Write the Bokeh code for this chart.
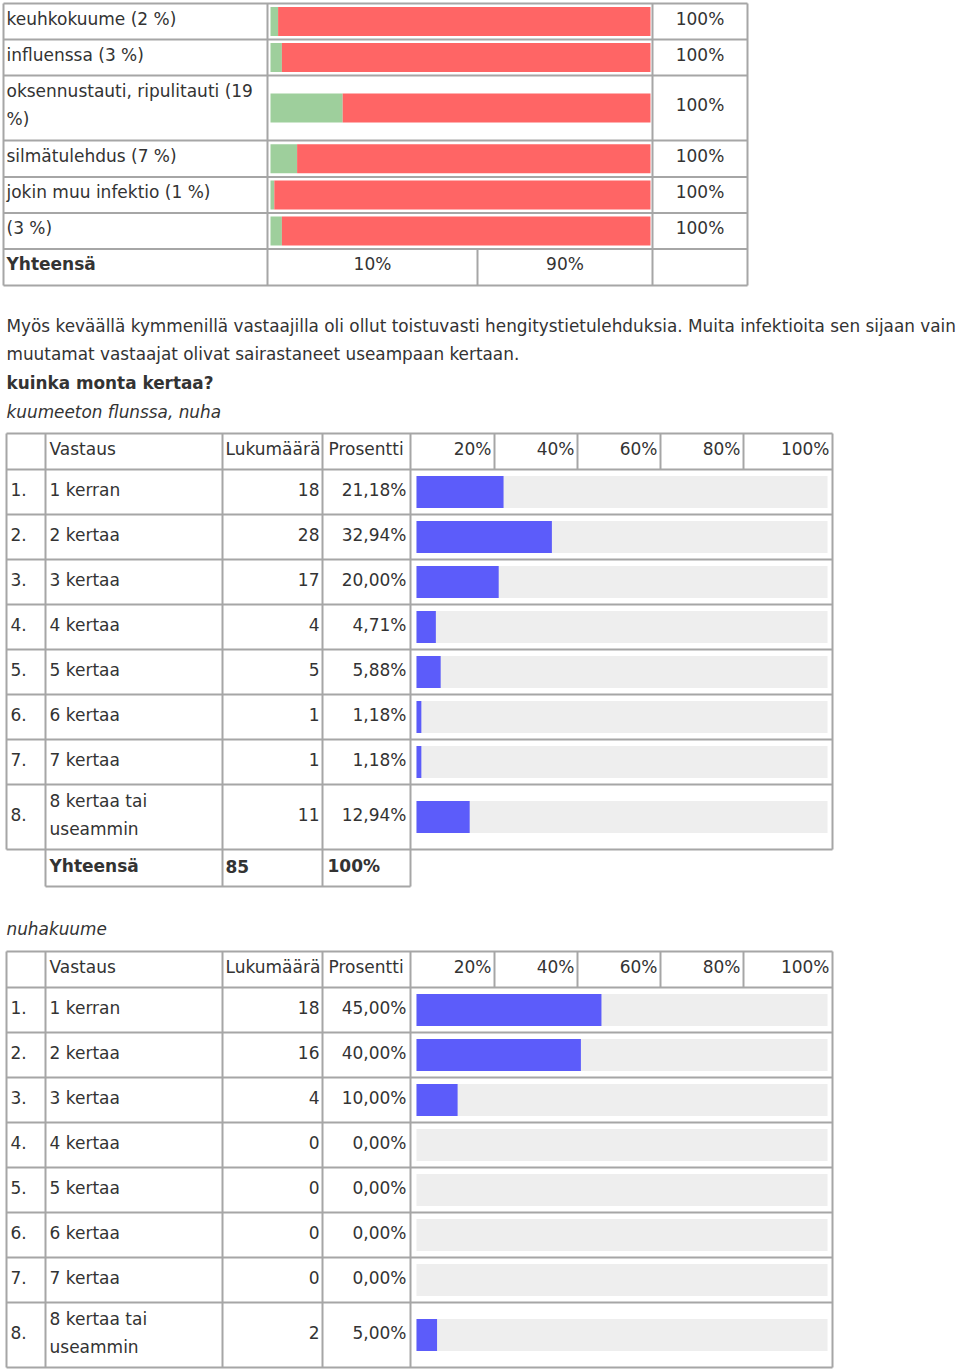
from bokeh.plotting import figure
from bokeh.models import Range1d, ColumnDataSource
from bokeh.core.properties import value
from bokeh.embed import file_html
from bokeh.resources import INLINE

# ---------------- data ----------------
t1_labels = ["keuhkokuume (2 %)", "influenssa (3 %)", "oksennustauti, ripulitauti (19\n%)",
             "silmätulehdus (7 %)", "jokin muu infektio (1 %)", "(3 %)"]
t1_green = [2, 3, 19, 7, 1, 3]
t1_totals = ["100%", "100%", "100%", "100%", "100%", "100%"]
t1_sum_label = "Yhteensä"
t1_sum_values = ["10%", "90%"]

para_lines = ["Myös keväällä kymmenillä vastaajilla oli ollut toistuvasti hengitystietulehduksia. Muita infektioita sen sijaan vain",
              "muutamat vastaajat olivat sairastaneet useampaan kertaan."]
question = "kuinka monta kertaa?"
title2 = "kuumeeton flunssa, nuha"
title3 = "nuhakuume"

header = ["Vastaus", "Lukumäärä", "Prosentti"]
scale_ticks = ["20%", "40%", "60%", "80%", "100%"]
numbers = ["1.", "2.", "3.", "4.", "5.", "6.", "7.", "8."]
answers = ["1 kerran", "2 kertaa", "3 kertaa", "4 kertaa", "5 kertaa", "6 kertaa", "7 kertaa",
           "8 kertaa tai\nuseammin"]
counts2 = [18, 28, 17, 4, 5, 1, 1, 11]
pct2 = [21.18, 32.94, 20.00, 4.71, 5.88, 1.18, 1.18, 12.94]
total2 = ["85", "100%"]
counts3 = [18, 16, 4, 0, 0, 0, 0, 2]
pct3 = [45.00, 40.00, 10.00, 0.00, 0.00, 0.00, 0.00, 5.00]

# ---------------- style ----------------
FONT = "DejaVu Sans"
FS = "17px"
PFS = "16.88px"
TXT = "#333333"
BORDER = "#a6a6a6"
GREEN = "#9ecf9c"
RED = "#ff6565"
BLUE = "#5c5cfa"
BG = "#eeeeee"

W, H = 960, 1371
p = figure(width=W, height=H, x_range=Range1d(0, W), y_range=Range1d(H, 0),
           output_backend="svg", toolbar_location=None, min_border=0)
p.axis.visible = False
p.grid.visible = False
p.outline_line_color = None
p.background_fill_color = "white"
p.border_fill_color = "white"

texts = dict(x=[], y=[], t=[], align=[], style=[], size=[])


def add_text(x, y, t, align="left", style="normal", size=FS):
    texts["x"].append(x); texts["y"].append(y); texts["t"].append(t)
    texts["align"].append(align); texts["style"].append(style)
    texts["size"].append(size)


hl = dict(x0=[], x1=[], y0=[], y1=[])


def hline(x0, x1, y):
    hl["x0"].append(x0); hl["x1"].append(x1); hl["y0"].append(y); hl["y1"].append(y)


def vline(x, y0, y1):
    hl["x0"].append(x); hl["x1"].append(x); hl["y0"].append(y0); hl["y1"].append(y1)


quads = dict(l=[], r=[], t=[], b=[], c=[])


def add_quad(l, r, t, b, c):
    quads["l"].append(l); quads["r"].append(r); quads["t"].append(t)
    quads["b"].append(b); quads["c"].append(c)


def multiline(x, yc, s, gap=28, **kw):
    parts = s.split("\n")
    n = len(parts)
    for i, part in enumerate(parts):
        add_text(x, yc + (i - (n - 1) / 2) * gap, part, **kw)


# ---------------- table 1 ----------------
t1_rows = [3, 39, 75, 140, 176.5, 212.5, 248.5, 285]
t1_cols = [3, 267, 652, 747]
bar_l, bar_r = 270, 650
for i, lab in enumerate(t1_labels):
    top, bot = t1_rows[i], t1_rows[i + 1]
    yc = (top + bot) / 2
    multiline(6, yc - 3, lab)
    bh = 29
    g = bar_l + (bar_r - bar_l) * t1_green[i] / 100
    add_quad(bar_l, g, yc - bh / 2, yc + bh / 2, GREEN)
    add_quad(g, bar_r, yc - bh / 2, yc + bh / 2, RED)
    add_text((t1_cols[2] + t1_cols[3]) / 2, yc - 3, t1_totals[i], align="center")
ytot = (t1_rows[-2] + t1_rows[-1]) / 2
add_text(6, ytot - 3, t1_sum_label, style="bold")
mid1 = 477
add_text((t1_cols[1] + mid1) / 2, ytot - 3, t1_sum_values[0], align="center")
add_text((mid1 + t1_cols[2]) / 2, ytot - 3, t1_sum_values[1], align="center")
for y in t1_rows:
    hline(t1_cols[0], t1_cols[-1], y)
for x in t1_cols:
    vline(x, t1_rows[0], t1_rows[-1])
vline(mid1, t1_rows[-2], t1_rows[-1])

# ---------------- paragraph ----------------
add_text(6, 325, para_lines[0], size=PFS)
add_text(6, 353, para_lines[1], size=PFS)
add_text(6, 382, question, style="bold", size=PFS)
add_text(6, 411, title2, style="italic", size=PFS)
add_text(6, 928, title3, style="italic", size=PFS)

# ---------------- tables 2, 3 ----------------
cols = [6, 45, 222, 322, 410, 494, 577, 660, 743, 832]
sbar_l, sbar_r = 416, 827


def survey_table(top, counts, pcts, total):
    rows = [top, top + 36]
    for k in range(7):
        rows.append(rows[-1] + 45)
    rows.append(rows[-1] + 65)
    hy = (rows[0] + rows[1]) / 2 - 3
    add_text(cols[1] + 4, hy, header[0])
    add_text(cols[2] + 3, hy, header[1])
    add_text(cols[3] + 6, hy, header[2])
    for j, tk in enumerate(scale_ticks):
        add_text(cols[5 + j] - 3, hy, tk, align="right")
    for i in range(8):
        t, b = rows[i + 1], rows[i + 2]
        yc = (t + b) / 2 - 2.5
        add_text(cols[0] + 4, yc, numbers[i])
        multiline(cols[1] + 4, yc, answers[i])
        add_text(cols[3] - 3, yc, str(counts[i]), align="right")
        add_text(cols[4] - 4, yc, f"{pcts[i]:.2f}".replace(".", ",") + "%", align="right")
        bt, bb = yc - 16 + 2.5, yc + 16 + 2.5
        add_quad(sbar_l, sbar_r, bt, bb, BG)
        if pcts[i] > 0:
            add_quad(sbar_l, sbar_l + (sbar_r - sbar_l) * pcts[i] / 100, bt, bb, BLUE)
    for y in rows:
        hline(cols[0], cols[-1], y)
    for x in [cols[0], cols[1], cols[2], cols[3], cols[4], cols[-1]]:
        vline(x, rows[0], rows[-1])
    for x in cols[5:9]:
        vline(x, rows[0], rows[1])
    if total is not None:
        tb = rows[-1] + 37
        ty = (rows[-1] + tb) / 2 - 2
        add_text(cols[1] + 4, ty, "Yhteensä", style="bold")
        add_text(cols[2] + 3, ty, total[0], style="bold")
        add_text(cols[3] + 5, ty, total[1], style="bold")
        hline(cols[1], cols[4], tb)
        for x in cols[1:5]:
            vline(x, rows[-1], tb)


survey_table(433, counts2, pct2, total2)
survey_table(951, counts3, pct3, None)

# ---------------- draw ----------------
p.quad(left="l", right="r", top="t", bottom="b", fill_color="c", line_color=None,
       source=ColumnDataSource(quads))
p.segment(x0="x0", x1="x1", y0="y0", y1="y1", line_color=BORDER, line_width=2,
          source=ColumnDataSource(hl))
p.text(x="x", y="y", text="t", text_align="align", text_font=value(FONT),
       text_font_style="style", text_baseline="middle",
       text_font_size="size", text_color=TXT,
       source=ColumnDataSource(texts))

open("out.html", "w").write(file_html(p, INLINE))
